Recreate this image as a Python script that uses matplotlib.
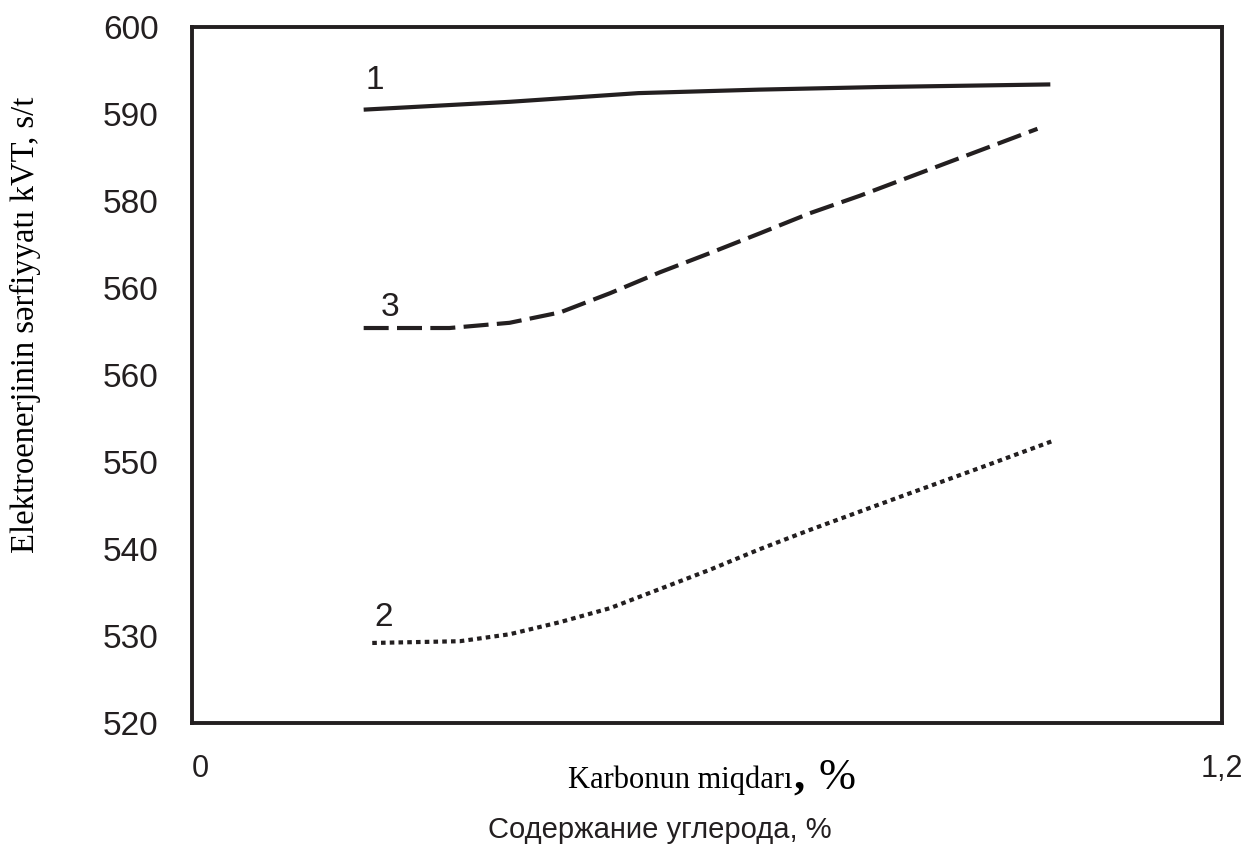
import matplotlib
matplotlib.use("Agg")
import matplotlib.pyplot as plt

# carbon content, % (x) and energy use (y)
carbon_1 = [0.20, 0.37, 0.52, 0.66, 0.80, 1.00]
energy_1 = [590.5, 591.4, 592.4, 592.8, 593.1, 593.4]

carbon_2 = [0.21, 0.312, 0.370, 0.429, 0.487, 0.545, 0.603, 0.662, 0.720,
            0.778, 0.825, 0.92, 1.005]
energy_2 = [529.2, 529.4, 530.2, 531.6, 533.2, 535.4, 537.6, 540.0, 542.2,
            544.3, 546.0, 549.4, 552.5]

carbon_3 = [0.20, 0.30, 0.370, 0.429, 0.487, 0.545, 0.603, 0.662, 0.720,
            0.778, 0.88, 0.985]
energy_3 = [565.4, 565.4, 566.0, 567.2, 569.4, 571.8, 574.0, 576.3, 578.6,
            580.6, 584.4, 588.3]

y_ticks = [520, 530, 540, 550, 560, 570, 580, 590, 600]
y_tick_labels = ["520", "530", "540", "550", "560", "560", "580", "590", "600"]
x_ticks = [0, 1.2]
x_tick_labels = ["0", "1,2"]

INK = "#231f20"
SANS = ["Liberation Sans", "DejaVu Sans"]
SERIF = ["Liberation Serif", "DejaVu Serif"]

fig = plt.figure(figsize=(12.48, 8.5), dpi=100)
ax = fig.add_axes([192 / 1248, 127 / 850, 1030 / 1248, 696 / 850])

ax.plot(carbon_1, energy_1, color=INK, lw=3.0, solid_capstyle="butt")
ax.plot(carbon_2, energy_2, color=INK, lw=3.0, linestyle=(0, (1.1, 1.0)),
        dash_capstyle="butt")
ax.plot(carbon_3, energy_3, color=INK, lw=3.0, linestyle=(0, (6, 2)),
        dash_capstyle="butt")

# curve numbers
ax.text(0.213, 593.8, "1", fontsize=24, family=SANS, color=INK,
        ha="center", va="center")
ax.text(0.231, 567.8, "3", fontsize=24, family=SANS, color=INK,
        ha="center", va="center")
ax.text(0.223, 532.1, "2", fontsize=24, family=SANS, color=INK,
        ha="center", va="center")

ax.set_xlim(0, 1.2)
ax.set_ylim(520, 600)
ax.set_yticks(y_ticks)
ax.set_yticklabels(y_tick_labels)
ax.set_xticks(x_ticks)
ax.set_xticklabels(x_tick_labels)
ax.tick_params(axis="y", length=0, pad=24, labelsize=24, labelcolor=INK)
ax.tick_params(axis="x", length=0, pad=22, labelsize=22, labelcolor=INK)
for lab in ax.get_xticklabels() + ax.get_yticklabels():
    lab.set_family(SANS)
ax.get_xticklabels()[0].set_horizontalalignment("left")

for sp in ax.spines.values():
    sp.set_linewidth(2.8)
    sp.set_color(INK)

# axis titles
fig.text(25 / 1248, 1 - 325 / 850, "Elektroenerjinin sərfiyyatı kVT, s/t",
         rotation=90, fontsize=23.5, family=SERIF, color="black",
         ha="center", va="center")
fig.text(792 / 1248, 1 - 780 / 850, "Karbonun miqdarı", fontsize=22,
         family=SERIF, color="black", ha="right", va="center")
fig.text(793 / 1248, 1 - 778 / 850, ",", fontsize=32, family=SERIF,
         weight="bold", color="black", ha="left", va="center")
fig.text(818 / 1248, 1 - 778 / 850, "%", fontsize=32, family=SERIF,
         color="black", ha="left", va="center")
fig.text(660 / 1248, 1 - 830 / 850, "Содержание углерода, %", fontsize=21,
         family=SANS, color=INK, ha="center", va="center")

fig.savefig("out.png", dpi=100)
